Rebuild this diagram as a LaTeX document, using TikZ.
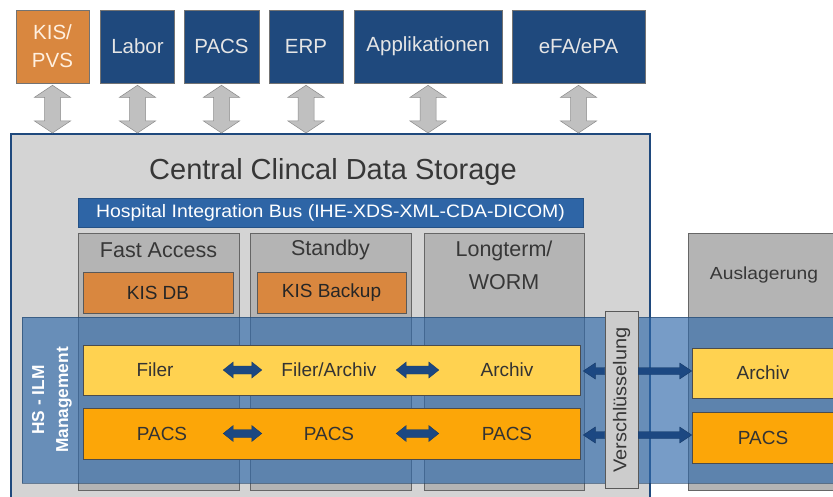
\documentclass[tikz,border=0pt]{standalone}
\usepackage{fontspec}
\setmainfont{Liberation Sans}
\usetikzlibrary{calc}

\definecolor{navy}{RGB}{31,73,125}
\definecolor{kisorange}{RGB}{217,135,63}
\definecolor{busblue}{RGB}{46,101,166}
\definecolor{storegray}{RGB}{212,212,212}
\definecolor{tiergray}{RGB}{180,180,180}
\definecolor{rowyellow}{RGB}{255,210,80}
\definecolor{roworange}{RGB}{252,166,8}
\definecolor{bandblue}{RGB}{49,106,170}
\definecolor{arrowgray}{RGB}{192,192,192}
\definecolor{txtgray}{RGB}{55,55,55}
\definecolor{linkblue}{RGB}{28,72,130}

\newcommand\setfs[2]{\fontsize{#1pt}{#2pt}\selectfont}

% vertical double arrow from #2 (top) down to #3 (bottom)
\newcommand\vdarrow[3][]{%
  \draw[#1] let \p1=(#2), \p2=(#3) in
    (\x1,\y1) -- (\x1+18pt,\y1-12pt) -- (\x1+8pt,\y1-12pt) -- (\x1+8pt,\y2+12pt)
    -- (\x1+18pt,\y2+12pt) -- (\x1,\y2) -- (\x1-18pt,\y2+12pt) -- (\x1-8pt,\y2+12pt)
    -- (\x1-8pt,\y1-12pt) -- (\x1-18pt,\y1-12pt) -- cycle;}

% horizontal double arrow between #2 (left) and #3 (right)
\newcommand\hdarrow[3][]{%
  \draw[#1] let \p1=(#2), \p2=(#3) in
    (\x1,\y1) -- (\x1+10pt,\y1+8pt) -- (\x1+10pt,\y1+4pt) -- (\x2-10pt,\y1+4pt)
    -- (\x2-10pt,\y1+8pt) -- (\x2,\y1) -- (\x2-10pt,\y1-8pt) -- (\x2-10pt,\y1-4pt)
    -- (\x1+10pt,\y1-4pt) -- (\x1+10pt,\y1-8pt) -- cycle;}

% single horizontal arrow from #2 with its tip at #3
\newcommand\sarrow[3][]{%
  \draw[#1] let \p1=(#2), \p2=(#3), \p3=($(#3)!12pt!(#2)$) in
    (\x1,\y1+3.5pt) -- (\x3,\y1+3.5pt) -- (\x3,\y1+8pt) -- (\x2,\y1)
    -- (\x3,\y1-8pt) -- (\x3,\y1-3.5pt) -- (\x1,\y1-3.5pt) -- cycle;}

\begin{document}
\begin{tikzpicture}[x=1pt,y=-1pt,
  sysbox/.style={draw=black!55, line width=0.6pt, fill=navy, text=white!90!black,
    inner sep=0pt, align=center, minimum height=73, font=\setfs{20.5}{28}},
  storebox/.style={draw=navy, line width=2pt, fill=storegray, inner sep=0pt},
  tier/.style={draw=black!60, line width=0.6pt, fill=tiergray, inner sep=0pt, minimum height=257},
  tierhead/.style={text=txtgray, font=\setfs{21.5}{33}, align=center, inner sep=0pt},
  dbbox/.style={draw=black!65, line width=0.6pt, fill=kisorange, text=black!85,
    inner sep=0pt, minimum height=41, font=\setfs{19}{19}},
  rowbox/.style={draw=black!70, line width=0.6pt, inner sep=0pt},
  rowtext/.style={text=black!80, inner sep=0pt, minimum height=20, font=\setfs{19}{19}},
  bigarrow/.style={fill=arrowgray, draw=black!45, line width=0.5pt},
  linkarrow/.style={fill=linkblue, draw=linkblue!80!black, line width=0.4pt},
  band/.style={fill=bandblue, fill opacity=0.66, draw=bandblue!60!black, draw opacity=0.6, line width=0.6pt}]

\useasboundingbox (0,0) rectangle (833,497);
\fill[white] (0,0) rectangle (833,497);

% connected systems
\node[sysbox, fill=kisorange, text=white!88!orange, minimum width=73] (kis) at (52.5,46.5) {KIS/\\PVS};
\node[sysbox, minimum width=74] (labor) at (137.5,46.5) {Labor};
\node[sysbox, minimum width=75] (pacs) at (221.5,46.5) {PACS};
\node[sysbox, minimum width=74] (erp) at (306,46.5) {ERP};
\node[sysbox, minimum width=148] (appl) at (428,46.5) {Applikationen};
\node[sysbox, minimum width=133] (efa) at (578.5,46.5) {eFA/ePA};

% central storage
\node[storebox, minimum width=639, minimum height=380, anchor=north west] (store) at (10,133) {};
\node[text=txtgray, font=\setfs{29}{29}, inner sep=0pt] (title) at (333,172) {Central Clincal Data Storage};
\node[fill=busblue, draw=busblue!80!black, line width=0.5pt, text=white, inner sep=0pt,
  minimum width=505, minimum height=29, font=\setfs{18}{18}] (bus) at (330.5,212.5)
  {\scalebox{1.08}[1]{Hospital Integration Bus (IHE-XDS-XML-CDA-DICOM)}};

% links between systems and storage
\foreach \s in {kis,labor,pacs,erp,appl,efa}
  \vdarrow[bigarrow]{$(\s.south)+(0,2)$}{\s.south |- store.north};

% storage tiers
\node[tier, minimum width=161] (fast) at (158.5,361.5) {};
\node[tier, minimum width=161] (standby) at (330.5,361.5) {};
\node[tier, minimum width=160] (longterm) at (504,361.5) {};
\node[tierhead] (fasthead) at (158.5,250) {Fast Access};
\node[tierhead] (standbyhead) at (330.5,250) {Standby};
\node[tierhead, anchor=north] (longhead) at (504,241) {Longterm/\\WORM};
\node[dbbox, minimum width=150] (kisdb) at (158,292.5) {KIS DB};
\node[dbbox, minimum width=149] (kisbackup) at (331.5,292.5) {KIS Backup};

% external tier
\node[tier, minimum width=152] (ausl) at (764,362) {};
\node[text=txtgray, inner sep=0pt, font=\setfs{17.5}{17.5}] (auslhead) at (764,275) {\scalebox{1.1}[1]{Auslagerung}};

% lifecycle management band
\path[band] (22,317) rectangle (845,483);
\node[rotate=90, text=white, align=center, inner sep=0pt, font=\bfseries\setfs{17.3}{24}] (ilm) at (52,400) {HS - ILM\\Management};

% data rows
\node[rowbox, fill=rowyellow, minimum width=497, minimum height=50] (filerrow) at (331.5,370) {};
\node[rowbox, fill=roworange, minimum width=497, minimum height=51] (pacsrow) at (331.5,433.5) {};
\node[rowtext, minimum width=136] (filer) at (155,370) {Filer};
\node[rowtext, minimum width=134] (filerarch) at (329,370) {Filer/Archiv};
\node[rowtext, minimum width=136] (archiv) at (507,370) {Archiv};
\node[rowtext, minimum width=122] (pacsa) at (162,433.5) {PACS};
\node[rowtext, minimum width=134] (pacsb) at (329,433.5) {PACS};
\node[rowtext, minimum width=136] (pacsc) at (507,433.5) {PACS};
\hdarrow[linkarrow]{filer.east}{filerarch.west}
\hdarrow[linkarrow]{filerarch.east}{archiv.west}
\hdarrow[linkarrow]{pacsa.east |- pacsb.west}{pacsb.west}
\hdarrow[linkarrow]{pacsb.east}{pacsc.west}

% external copies
\node[rowbox, fill=rowyellow, minimum width=142, minimum height=50] (extarchiv) at (763,373) {};
\node[rowbox, fill=roworange, minimum width=142, minimum height=51] (extpacs) at (763,437.5) {};
\node[rowtext] (extarchivtext) at (763,373) {Archiv};
\node[rowtext] (extpacstext) at (763,437.5) {PACS};

% encryption gateway
\node[draw=black!65, line width=0.6pt, fill=black!20, minimum width=33, minimum height=177, inner sep=0pt] (crypt) at (621.5,399.5) {};
\node[rotate=90, text=txtgray, inner sep=0pt, font=\setfs{18.5}{18.5}] (crypttext) at (621.5,400) {\scalebox{1.08}[1]{Verschlüsselung}};

\coordinate (c1l) at (crypt.west |- 0,371);
\coordinate (c1r) at (crypt.east |- 0,371);
\coordinate (c2l) at (crypt.west |- 0,435);
\coordinate (c2r) at (crypt.east |- 0,435);
\coordinate (t1l) at ($(filerrow.east |- c1l)+(3,0)$);
\coordinate (t2l) at ($(pacsrow.east |- c2l)+(3,0)$);
\sarrow[linkarrow]{c1l}{t1l}
\sarrow[linkarrow]{c2l}{t2l}
\sarrow[linkarrow]{c1r}{extarchiv.west |- c1r}
\sarrow[linkarrow]{c2r}{extpacs.west |- c2r}

\end{tikzpicture}
\end{document}
